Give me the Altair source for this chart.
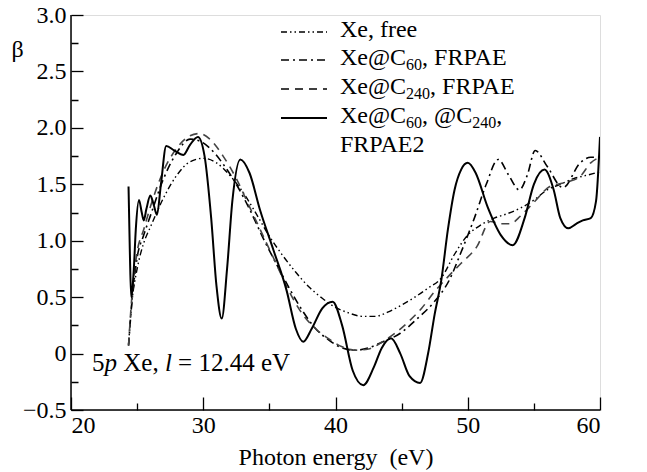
import altair as alt
import pandas as pd

# ---------------- data ----------------
free_E = [24.35, 24.6, 25.0, 25.5, 26.0, 27.0, 28.0, 29.0, 30.0, 31.0, 32.0, 33.0, 34.0, 35.0,
          36.0, 37.0, 38.0, 39.0, 40.0, 41.0, 42.0, 43.0, 44.0, 45.0, 46.0, 47.0, 48.0, 49.0,
          50.0, 51.0, 52.0, 53.0, 54.0, 55.0, 56.0, 57.0, 58.0, 59.0, 60.0]
free_b = [0.08, 0.45, 0.75, 0.98, 1.12, 1.38, 1.58, 1.70, 1.73, 1.69, 1.58, 1.43, 1.24, 1.04,
          0.87, 0.72, 0.59, 0.49, 0.41, 0.36, 0.33, 0.33, 0.37, 0.43, 0.50, 0.58, 0.67, 0.88,
          1.05, 1.14, 1.20, 1.24, 1.29, 1.36, 1.45, 1.50, 1.55, 1.58, 1.61]

c60_E = [24.35, 24.6, 25.0, 25.5, 26.0, 27.0, 28.0, 29.0, 29.8, 30.5, 31.5, 32.5, 33.5, 34.5,
         35.5, 36.5, 37.5, 38.5, 39.5, 40.5, 41.5, 42.5, 43.5, 44.9, 46.1, 47.4, 48.6, 49.5,
         50.5, 51.4, 52.3, 53.1, 53.9, 54.5, 55.1, 56.0, 57.2, 58.5, 59.3, 60.0]
c60_b = [0.07, 0.45, 0.85, 1.05, 1.22, 1.55, 1.78, 1.90, 1.88, 1.82, 1.68, 1.50, 1.28, 1.03,
         0.80, 0.58, 0.38, 0.22, 0.12, 0.05, 0.03, 0.05, 0.10, 0.18, 0.30, 0.45, 0.65, 0.90,
         1.20, 1.50, 1.72, 1.58, 1.45, 1.58, 1.80, 1.66, 1.47, 1.69, 1.74, 1.74]

c240_E = [24.35, 24.6, 25.0, 25.5, 26.0, 27.0, 28.0, 29.0, 29.7, 30.5, 31.5, 32.5, 33.5, 34.5,
          35.5, 36.5, 37.5, 38.5, 39.5, 40.5, 41.5, 42.5, 43.5, 44.5, 45.5, 46.5, 47.5, 48.5,
          49.5, 50.7, 51.7, 52.5, 53.2, 54.0, 55.0, 56.2, 57.5, 58.5, 59.3, 60.0]
c240_b = [0.07, 0.50, 0.90, 1.10, 1.30, 1.62, 1.82, 1.93, 1.95, 1.90, 1.75, 1.55, 1.30, 1.05,
          0.80, 0.55, 0.35, 0.22, 0.13, 0.06, 0.03, 0.04, 0.10, 0.18, 0.28, 0.40, 0.55, 0.68,
          0.80, 0.95, 1.17, 1.15, 1.15, 1.22, 1.34, 1.48, 1.52, 1.57, 1.69, 1.74]

fr2_E = [24.35, 24.45, 24.55, 24.75, 24.9, 25.14, 25.35, 25.5, 25.7, 26.0, 26.25, 26.5, 26.8,
         27.2, 27.8, 28.5, 29.0, 29.6, 30.1, 30.6, 31.0, 31.4, 31.8, 32.2, 32.8, 33.5, 34.3,
         35.3, 36.3, 37.0, 37.56, 38.2, 39.0, 39.78, 40.5, 41.3, 42.1, 42.9, 43.5, 44.2, 44.9,
         45.6, 46.4, 47.0, 47.5, 48.0, 48.5, 49.0, 49.5, 50.0, 50.6, 51.5, 52.5, 53.4, 54.3,
         55.0, 55.8, 56.5, 57.0, 57.6, 58.2, 58.7, 59.3, 59.7, 60.0]
fr2_b = [1.48, 0.90, 0.50, 0.75, 1.10, 1.36, 1.25, 1.18, 1.28, 1.40, 1.32, 1.23, 1.50,
         1.84, 1.80, 1.76, 1.85, 1.92, 1.75, 1.20, 0.60, 0.31, 0.75, 1.35, 1.72, 1.60, 1.27,
         0.92, 0.56, 0.22, 0.105, 0.22, 0.40, 0.46, 0.25, -0.15, -0.28, -0.12, 0.05, 0.135, 0.0,
         -0.20, -0.26, 0.0, 0.35, 0.65, 1.10, 1.45, 1.63, 1.69, 1.60, 1.30, 1.05, 0.96, 1.20,
         1.50, 1.63, 1.45, 1.20, 1.11, 1.15, 1.18, 1.20, 1.35, 1.92]

x_major = [20, 30, 40, 50, 60]
x_minor = [25, 35, 45, 55]
y_major = [-0.5, 0.0, 0.5, 1.0, 1.5, 2.0, 2.5, 3.0]
y_minor = [-0.25, 0.25, 0.75, 1.25, 1.75, 2.25, 2.75]

# ---------------- layout ----------------
W, H = 529, 395
FONT = "Liberation Serif"
FS = 24
SUB = 16
YT, XT = 12, 13          # inward major tick lengths (px)

xs = alt.Scale(domain=[20, 60], nice=False, zero=False)
ys = alt.Scale(domain=[-0.5, 3.0], nice=False, zero=False)

# axes are pulled inside the frame by their tick length, so the ticks point inward;
# minor ticks are shortened with a dash that starts past the gap.
xaxis = alt.Axis(values=sorted(x_major + x_minor), offset=-XT, tickSize=XT,
                 tickColor="black", tickWidth=1.3,
                 tickDash={"condition": {"test": "datum.value % 10 != 0", "value": [0, XT - 7, 7, 40]},
                           "value": [60, 1]},
                 domain=False, grid=False,
                 labelExpr="datum.value % 10 != 0 ? '' : datum.label",
                 labelFont=FONT, labelFontSize=FS, labelColor="black", labelPadding=3,
                 labelFlush=True, title="Photon energy\u00a0 (eV)", titleFont=FONT,
                 titleFontSize=FS, titleFontWeight="normal", titleColor="black",
                 titleY=54 + XT, titleBaseline="alphabetic")
yaxis = alt.Axis(values=sorted(y_major + y_minor), offset=-YT, tickSize=YT,
                 tickColor="black", tickWidth=1.3,
                 tickDash={"condition": {"test": "datum.value % 0.5 != 0", "value": [0, YT - 7, 7, 40]},
                           "value": [60, 1]},
                 domain=False, grid=False,
                 labelFont=FONT, labelFontSize=FS, labelColor="black", labelPadding=5,
                 labelBaseline="middle",
                 labelExpr="datum.value % 0.5 != 0 ? '' : (datum.value == 0 ? '0' : (datum.value < 0 ? '\u2212' + format(-datum.value, '.1f') : format(datum.value, '.1f')))",
                 title="\u03b2", titleFont=FONT, titleFontSize=FS, titleFontWeight="normal",
                 titleColor="black", titleAngle=0, titleX=-54 - YT, titleY=34,
                 titleAlign="center", titleBaseline="middle")

X = alt.X("E:Q", scale=xs, axis=xaxis)
Y = alt.Y("beta:Q", scale=ys, axis=yaxis)


def curve(E, b, color, width, dash=None):
    df = pd.DataFrame({"E": E, "beta": b})
    kw = dict(interpolate="monotone", color=color, strokeWidth=width, clip=True)
    if dash:
        kw["strokeDash"] = dash
    return alt.Chart(df).mark_line(**kw).encode(x=X, y=Y)


DASH_FREE = [6, 3, 1.5, 3, 1.5, 3]
DASH_C60 = [8, 4, 2, 4]
DASH_C240 = [8, 6]

layers = [
    curve(free_E, free_b, "black", 1.4, DASH_FREE),
    curve(c60_E, c60_b, "black", 1.6, DASH_C60),
    curve(c240_E, c240_b, "#444444", 1.6, DASH_C240),
    curve(fr2_E, fr2_b, "black", 2.0),
]

# frame spines (left and bottom) drawn explicitly
layers.append(alt.Chart(pd.DataFrame({"k": [0]})).mark_rule(color="black", strokeWidth=1.5).encode(
    x=alt.value(0), y=alt.value(0), y2=alt.value(H)))
layers.append(alt.Chart(pd.DataFrame({"k": [1]})).mark_rule(color="black", strokeWidth=1.5).encode(
    x=alt.value(0), x2=alt.value(W), y=alt.value(H)))

# ---------------- text helpers ----------------
CW = {'X': .722, 'e': .444, '@': .921, 'C': .667, ',': .25, ' ': .25, 'F': .556, 'R': .667,
      'P': .556, 'A': .722, 'E': .611, '6': .5, '0': .5, '2': .5, '4': .5, 'f': .333, 'r': .333,
      '5': .5, 'p': .5, 'l': .278, '=': .564, '1': .5, '.': .25, 'V': .722}

def tw(s, size):
    return sum(CW.get(c, .5) for c in s) * size

def text_run(segments, x0, y0):
    """segments: list of (text, size, dy, style); text placed left to right."""
    out = []
    x = x0
    for s, size, dy, style in segments:
        t = s.strip()
        lead = len(s) - len(s.lstrip())
        x += tw(" " * lead, size)
        out.append(alt.Chart(pd.DataFrame({"t": [t]})).mark_text(
            align="left", baseline="alphabetic", font=FONT, fontSize=size,
            fontStyle=style, color="black").encode(
            text="t:N", x=alt.value(x), y=alt.value(y0 + dy)))
        x += tw(s.lstrip(), size)
    return out

# ---------------- legend ----------------
LX0, LX1, TX = 210, 256, 269
rows = [
    ([("Xe, free", FS, 0, "normal")], DASH_FREE, "black", 1.4),
    ([("Xe@C", FS, 0, "normal"), ("60", SUB, 5, "normal"), (",", FS, 0, "normal"),
      (" FRPAE", FS, 0, "normal")], DASH_C60, "black", 1.6),
    ([("Xe@C", FS, 0, "normal"), ("240", SUB, 5, "normal"), (",", FS, 0, "normal"),
      (" FRPAE", FS, 0, "normal")], DASH_C240, "black", 1.6),
    ([("Xe@C", FS, 0, "normal"), ("60", SUB, 5, "normal"), (",", FS, 0, "normal"),
      (" @C", FS, 0, "normal"), ("240", SUB, 5, "normal"), (",", FS, 0, "normal")], None, "black", 2.0),
]
baselines = [22, 50, 79, 108]
for (segs, dash, col, wdt), yb in zip(rows, baselines):
    kw = dict(color=col, strokeWidth=wdt)
    if dash:
        kw["strokeDash"] = dash
    layers.append(alt.Chart(pd.DataFrame({"k": [yb]})).mark_rule(**kw).encode(
        x=alt.value(LX0), x2=alt.value(LX1), y=alt.value(yb - 5)))
    layers += text_run(segs, TX, yb)
layers += text_run([("FRPAE2", FS, 0, "normal")], TX, 137)

# ---------------- annotation ----------------
AF = 25
layers += text_run([("5", AF, 0, "normal"), ("p", AF, 0, "italic"), (" Xe,", AF, 0, "normal"),
                    (" l", AF, 0, "italic"), (" = 12.44 eV", AF, 0, "normal")], 21, 356)

chart = alt.layer(*layers).properties(
    width=W, height=H,
    autosize=alt.AutoSizeParams(type="none"),
    padding={"left": 71, "top": 15, "right": 47, "bottom": 62},
).configure_view(stroke="#222222", strokeWidth=1.5).configure(background="white")

chart.save("out.html", embed_options={"renderer": "svg", "actions": False})
